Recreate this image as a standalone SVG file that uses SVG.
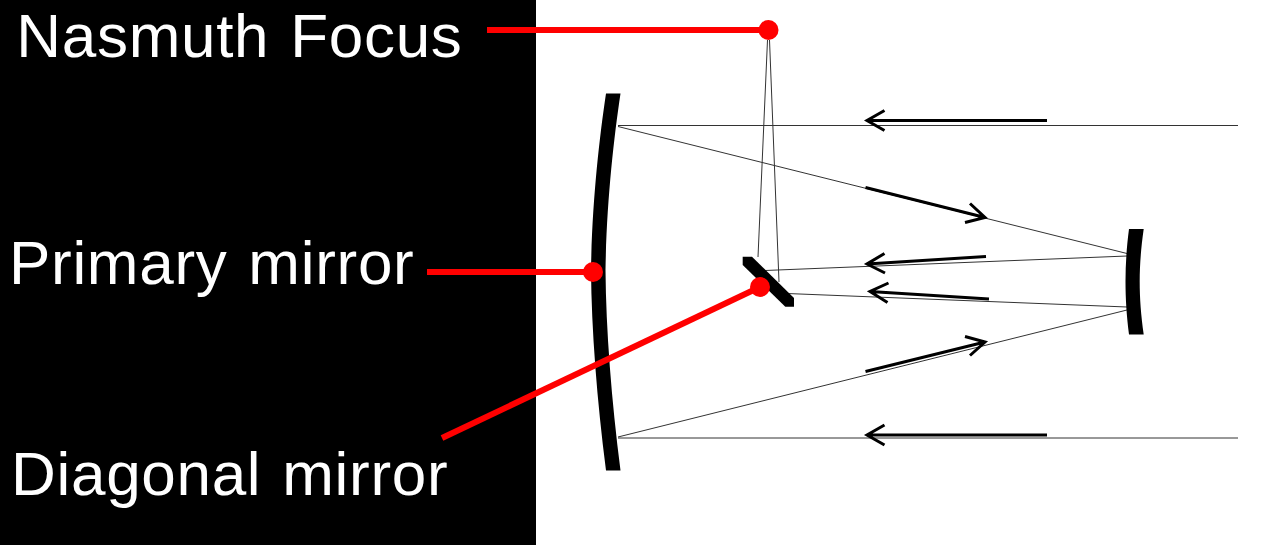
<svg xmlns="http://www.w3.org/2000/svg" width="1277" height="545" viewBox="0 0 1277 545">
<style>
.label{font-family:"Liberation Sans",Arial,sans-serif;font-size:62px;letter-spacing:.7px;word-spacing:3px;fill:#fff}
.ray{fill:none;stroke:#333;stroke-width:1}
.arrow{fill:none;stroke:#000;stroke-width:3}
.leader{fill:none;stroke:#f00;stroke-width:6}
.dot{fill:#f00}
.mirror{fill:#000}
</style>
<rect width="1277" height="545" fill="#fff"/>
<rect id="panel" width="536" height="545" fill="#000"/>
<g id="connectors">
<path class="ray" d="M618,125.5H1238M618,438H1238M618,126.5L1127,253.5M618,437L1127,310M1127,256L765,270.5M1127,307L787,293.5M758,257L767.5,40M779,282L769.5,40"/>
<path class="arrow" d="M1047,120.5H867M884.5,110.5L867,120.5L884.5,130.5"/>
<path class="arrow" d="M1047,435H867M884.5,425L867,435L884.5,445"/>
<path class="arrow" d="M865.5,187.5L985,217.5M970,203.5L985,217.5L965,222.5"/>
<path class="arrow" d="M986,256.5L867,264M884.5,253.5L867,264L885,273"/>
<path class="arrow" d="M989,299L870,291.5M888.5,283L870,291.5L887.5,302.5"/>
<path class="arrow" d="M865.5,371.5L985,342M965,336.5L985,342L970,355.5"/>
</g>
<g id="primary-mirror"><path class="mirror" d="M606,93.5C599,140 592,205 591,270C591.5,330 597,400 606,470.5H620.5C611.5,400 606,330 605.5,270C606.5,205 613.5,140 620.5,93.5Z"/></g>
<g id="secondary-mirror"><path class="mirror" d="M1129,229C1126.5,248 1125.5,265 1125.5,281.5C1125.5,298 1126.5,315 1129,334.5H1143.7C1141,315 1139.7,298 1139.7,281.5C1139.7,265 1141,248 1143.7,229Z"/></g>
<g id="diagonal-mirror"><path class="mirror" d="M742.7,256.7H752L794,298V306.7H785.3L742.7,265Z"/></g>
<g id="nasmuth-focus">
<path class="leader" d="M487,30H768"/><circle class="dot" cx="768.5" cy="30" r="10"/>
<text class="label" x="16.3" y="56.5">Nasmuth Focus</text>
</g>
<g id="primary-label">
<path class="leader" d="M427,272H593"/><circle class="dot" cx="593" cy="272" r="10"/>
<text class="label" x="9" y="283.5">Primary mirror</text>
</g>
<g id="diagonal-label">
<path class="leader" d="M442,438L760,287"/><circle class="dot" cx="760" cy="287" r="10"/>
<text class="label" x="11" y="495">Diagonal mirror</text>
</g>
</svg>
